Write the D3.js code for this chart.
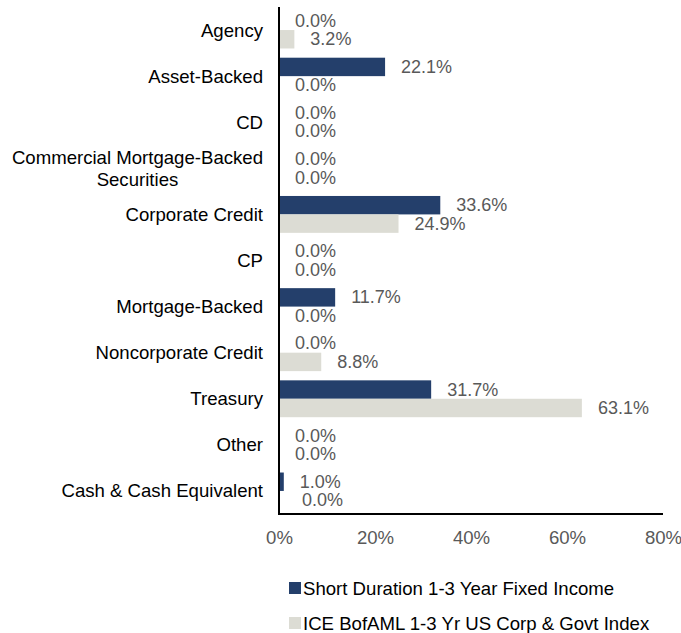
<!DOCTYPE html>
<html>
<head>
<meta charset="utf-8">
<script src="https://cdn.jsdelivr.net/npm/d3@7"></script>
<style>
  html, body { margin: 0; padding: 0; background: #fff; }
  svg { display: block; font-family: "Liberation Sans", Arial, sans-serif; }
</style>
</head>
<body>
<svg id="chart" width="681" height="633"></svg>
<script>
// Sector allocation: fund vs. benchmark (percent of portfolio)
const categories = [
  "Agency", "Asset-Backed", "CD", "Commercial Mortgage-Backed Securities",
  "Corporate Credit", "CP", "Mortgage-Backed", "Noncorporate Credit",
  "Treasury", "Other", "Cash & Cash Equivalent"
];
const seriesNames = [
  "Short Duration 1-3 Year Fixed Income",
  "ICE BofAML 1-3 Yr US Corp & Govt Index"
];
const fundValues  = [0.0, 22.1, 0.0, 0.0, 33.6, 0.0, 11.7, 0.0, 31.7, 0.0, 1.0];
const indexValues = [3.2, 0.0, 0.0, 0.0, 24.9, 0.0, 0.0, 8.8, 63.1, 0.0, 0.0];
const xTicks = [0, 20, 40, 60, 80];

const colors = ["#243F6B", "#DCDCD4"];
const fs = 18.6;      // category, tick and legend text
const fsValue = 18;   // value labels beside the bars
const svg = d3.select("#chart");

const x = d3.scaleLinear().domain([0, 80]).range([279, 663]);
const y = d3.scaleBand().domain(categories).range([7, 514])
  .paddingInner(0.2).paddingOuter(0.1);
const sub = d3.scaleBand().domain([0, 1]).range([0, y.bandwidth()]);

const rows = categories.map((c, i) => ({ c, vals: [fundValues[i], indexValues[i]] }));

// bars
const g = svg.append("g");
rows.forEach(r => {
  r.vals.forEach((v, s) => {
    g.append("rect")
      .attr("x", x(0))
      .attr("y", y(r.c) + sub(s))
      .attr("width", x(v) - x(0))
      .attr("height", sub.bandwidth())
      .attr("fill", colors[s]);
  });
});

// value labels
rows.forEach(r => {
  r.vals.forEach((v, s) => {
    const nudge = (r.c === "Cash & Cash Equivalent" && s === 1) ? 7 : 0;
    g.append("text")
      .attr("x", x(v) + 16 + nudge)
      .attr("y", y(r.c) + sub(s) + sub.bandwidth() / 2)
      .attr("dominant-baseline", "central")
      .attr("font-size", fsValue)
      .attr("fill", "#595959")
      .text(v.toFixed(1) + "%");
  });
});

// category labels (right aligned, wrapped lines centred on each other)
const labelRight = 263;
const wrapLines = { "Commercial Mortgage-Backed Securities": ["Commercial Mortgage-Backed", "Securities"] };
categories.forEach(c => {
  const lines = wrapLines[c] || [c];
  const cy = y(c) + y.bandwidth() / 2;
  const t = svg.append("text")
    .attr("font-size", fs)
    .attr("fill", "#000")
    .attr("text-anchor", "end")
    .attr("x", labelRight)
    .attr("y", cy)
    .attr("dominant-baseline", "central");
  if (lines.length === 1) {
    t.text(c);
  } else {
    t.text(lines[0]);
    const w = t.node().getComputedTextLength();
    t.remove();
    const mid = labelRight - w / 2;
    const lh = 22;
    lines.forEach((ln, k) => {
      svg.append("text")
        .attr("font-size", fs)
        .attr("fill", "#000")
        .attr("text-anchor", "middle")
        .attr("x", mid)
        .attr("y", cy + (k - (lines.length - 1) / 2) * lh)
        .attr("dominant-baseline", "central")
        .text(ln);
    });
  }
});

// axes lines
svg.append("line").attr("x1", x(0)).attr("x2", x(0)).attr("y1", 7).attr("y2", 515)
  .attr("stroke", "#000").attr("stroke-width", 2);
svg.append("line").attr("x1", x(0) - 1).attr("x2", x(80)).attr("y1", 514).attr("y2", 514)
  .attr("stroke", "#000").attr("stroke-width", 2);

// x tick labels
const xAxis = d3.axisBottom(x).tickValues(xTicks).tickSize(0).tickPadding(0)
  .tickFormat(d => d + "%");
const ax = svg.append("g").attr("transform", "translate(0,537)").call(xAxis);
ax.select(".domain").remove();
ax.selectAll("text")
  .attr("font-size", fs)
  .attr("font-family", "Liberation Sans, Arial, sans-serif")
  .attr("fill", "#595959")
  .attr("dy", null)
  .attr("dominant-baseline", "central");

// legend
const legend = svg.append("g");
seriesNames.forEach((name, i) => {
  const ly = 588 + i * 35;
  legend.append("rect")
    .attr("x", 289).attr("y", ly - 6).attr("width", 12).attr("height", 12)
    .attr("fill", colors[i]);
  legend.append("text")
    .attr("x", 303).attr("y", ly)
    .attr("dominant-baseline", "central")
    .attr("font-size", fs).attr("fill", "#000")
    .text(name);
});
</script>
</body>
</html>
